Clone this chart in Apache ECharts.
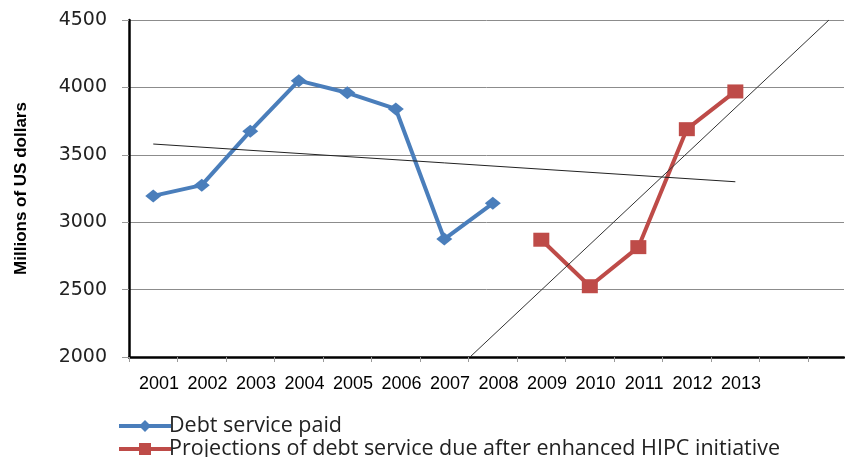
<!DOCTYPE html>
<html>
<head>
<meta charset="utf-8">
<script src="https://cdn.jsdelivr.net/npm/echarts@6/dist/echarts.min.js"></script>
<style>
  html, body { margin: 0; padding: 0; background: #fff; }
  #chart { width: 845px; height: 457px; }
</style>
</head>
<body>
<div id="chart"></div>
<script>
// Year slots along the horizontal axis (the axis runs on past the last year)
const years = [2001, 2002, 2003, 2004, 2005, 2006, 2007, 2008, 2009, 2010, 2011, 2012, 2013];
const slotSpan = 14.74;

// Debt service actually paid, millions of US dollars
const paidYears = [2001, 2002, 2003, 2004, 2005, 2006, 2007, 2008];
const paidValues = [3195, 3275, 3675, 4050, 3960, 3840, 2875, 3140];

// Projected debt service due after the enhanced HIPC initiative
const projYears = [2009, 2010, 2011, 2012, 2013];
const projValues = [2870, 2525, 2815, 3690, 3970];

// Linear trend lines: [year, value] end points
const paidTrend = [[2001, 3580], [2013, 3300]];
const projTrend = [[2007.53, 2000], [2014.93, 4500]];

// Vertical axis ticks
const yMin = 2000, yMax = 4500, yStep = 500;

const paidName = 'Debt service paid';
const projName = 'Projections of debt service due after enhanced HIPC initiative';

const firstYear = years[0];
// a year sits in the middle of its slot on the value axis
const xOf = (year) => year - firstYear + 0.5;
const pairs = (xs, ys) => xs.map((x, i) => [xOf(x), ys[i]]);
const trendPairs = (pts) => pts.map(p => [xOf(p[0]), p[1]]);

const chart = echarts.init(document.getElementById('chart'), null, { renderer: 'canvas' });

const legendText = {
  color: '#222',
  fontFamily: 'Open Sans, sans-serif',
  fontSize: 21.5,
  padding: [0, 0, 0, -7]
};

chart.setOption({
  animation: false,
  backgroundColor: '#ffffff',
  grid: { left: 129, right: 1, top: 20, bottom: 100, containLabel: false },
  xAxis: {
    type: 'value',
    min: 0,
    max: slotSpan,
    interval: 1,
    axisLine: { show: true, onZero: false, lineStyle: { color: '#000', width: 2.5 } },
    axisTick: { show: true, length: 5, lineStyle: { color: '#999', width: 1 } },
    splitLine: { show: false },
    axisLabel: {
      color: '#000',
      fontFamily: 'Liberation Sans, Arial, sans-serif',
      fontSize: 18,
      margin: 18,
      padding: [0, 0, 0, 60],
      showMaxLabel: false,
      formatter: (v) => (years[v] !== undefined ? String(years[v]) : '')
    }
  },
  yAxis: {
    type: 'value',
    min: yMin,
    max: yMax,
    interval: yStep,
    name: 'Millions of US dollars',
    nameLocation: 'middle',
    nameRotate: 90,
    nameGap: 99,
    nameTextStyle: {
      color: '#000',
      fontFamily: 'Liberation Sans Narrow, Liberation Sans, Arial Narrow, sans-serif',
      fontSize: 17,
      fontWeight: 'bold'
    },
    axisLine: { show: true, lineStyle: { color: '#000', width: 2.5 } },
    axisTick: { show: true, length: 7, lineStyle: { color: '#999', width: 1 } },
    splitLine: { show: true, lineStyle: { color: '#8c8c8c', width: 1 } },
    axisLabel: {
      color: '#222',
      fontFamily: 'DejaVu Sans, Verdana, sans-serif',
      fontSize: 19,
      margin: 22,
      formatter: (v) => String(v)
    }
  },
  legend: [
    {
      left: 112, top: 410,
      itemWidth: 52, itemHeight: 15,
      data: [paidName],
      lineStyle: { width: 4 },
      textStyle: legendText
    },
    {
      left: 112, top: 433,
      itemWidth: 52, itemHeight: 15,
      data: [projName],
      lineStyle: { width: 4 },
      textStyle: legendText
    }
  ],
  series: [
    {
      name: paidName,
      type: 'line',
      data: pairs(paidYears, paidValues),
      symbol: 'diamond',
      symbolSize: [16, 13],
      lineStyle: { color: '#4A7EBB', width: 4 },
      itemStyle: { color: '#4A7EBB' },
      z: 3
    },
    {
      name: projName,
      type: 'line',
      data: pairs(projYears, projValues),
      symbol: 'rect',
      symbolSize: [16, 14],
      lineStyle: { color: '#BE4B48', width: 4 },
      itemStyle: { color: '#BE4B48' },
      z: 3
    },
    {
      name: 'paidTrend',
      type: 'line',
      data: trendPairs(paidTrend),
      symbol: 'none',
      silent: true,
      lineStyle: { color: '#222', width: 1 },
      z: 4
    },
    {
      name: 'projTrend',
      type: 'line',
      data: trendPairs(projTrend),
      symbol: 'none',
      silent: true,
      lineStyle: { color: '#333', width: 1 },
      z: 4
    }
  ]
});
</script>
</body>
</html>
